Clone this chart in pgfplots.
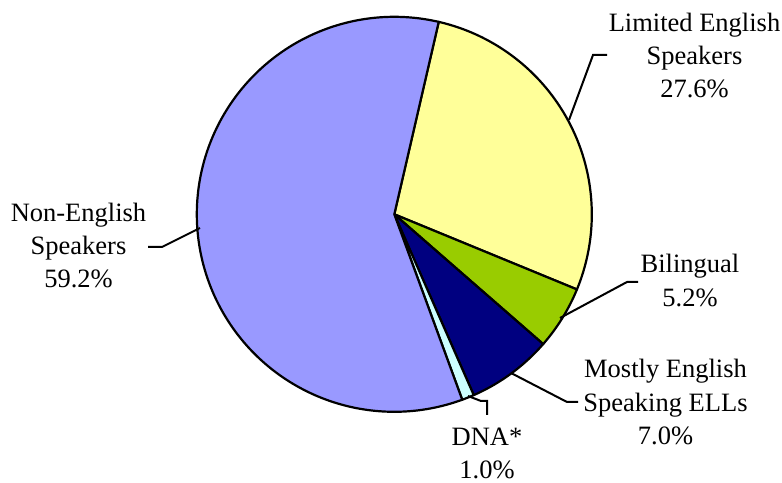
\documentclass[border=0pt]{standalone}
\usepackage{pgfplots}
\pgfplotsset{compat=1.18}
\usepackage{pgfplotstable}
\usepackage{fontspec}
\setmainfont{Liberation Serif}

\definecolor{cLimited}{HTML}{FFFF99}
\definecolor{cBiling}{HTML}{99CC00}
\definecolor{cMostly}{HTML}{000080}
\definecolor{cDNA}{HTML}{CCFFFF}
\definecolor{cNonEng}{HTML}{9999FF}

% Shares of students by English proficiency, in percent (clockwise from the top)
\pgfplotstableread{
group      share
Limited    27.6
Bilingual  5.2
Mostly     7.0
DNA        1.0
NonEnglish 59.2
}\shares

% Pie geometry (axis units = bp)
\def\cx{394.3}
\def\cy{268.7}
\def\R{197.5}
\pgfmathsetmacro\angA{77}
\pgfplotstablegetelem{0}{share}\of\shares \pgfmathsetmacro\angB{\angA-3.6*\pgfplotsretval}
\pgfplotstablegetelem{1}{share}\of\shares \pgfmathsetmacro\angC{\angB-3.6*\pgfplotsretval}
\pgfplotstablegetelem{2}{share}\of\shares \pgfmathsetmacro\angD{\angC-3.6*\pgfplotsretval}
\pgfplotstablegetelem{3}{share}\of\shares \pgfmathsetmacro\angE{\angD-3.6*\pgfplotsretval}
\pgfplotstablegetelem{4}{share}\of\shares \pgfmathsetmacro\angF{\angE-3.6*\pgfplotsretval}

\newcommand{\lbl}{\fontsize{26.5bp}{33bp}\selectfont}

\begin{document}
\begin{tikzpicture}
\useasboundingbox (0,0) rectangle (782bp,483bp);
\begin{axis}[
  at={(0,0)}, anchor=south west,
  scale only axis, width=782bp, height=483bp,
  xmin=0, xmax=782, ymin=0, ymax=483,
  hide axis, clip=false,
]
\pgfplotsset{slice/.style={draw=black, line width=2.2bp, line join=round, samples=90, variable=\t}}
\addplot[slice, fill=cLimited, domain=\angB:\angA] ({\cx+\R*cos(\t)},{\cy+\R*sin(\t)}) -- (axis cs:\cx,\cy) -- cycle;
\addplot[slice, fill=cBiling, domain=\angC:\angB] ({\cx+\R*cos(\t)},{\cy+\R*sin(\t)}) -- (axis cs:\cx,\cy) -- cycle;
\addplot[slice, fill=cMostly, domain=\angD:\angC] ({\cx+\R*cos(\t)},{\cy+\R*sin(\t)}) -- (axis cs:\cx,\cy) -- cycle;
\addplot[slice, fill=cDNA, domain=\angE:\angD, samples=10] ({\cx+\R*cos(\t)},{\cy+\R*sin(\t)}) -- (axis cs:\cx,\cy) -- cycle;
\addplot[slice, fill=cNonEng, domain=\angF:\angE, samples=180] ({\cx+\R*cos(\t)},{\cy+\R*sin(\t)}) -- (axis cs:\cx,\cy) -- cycle;

% leader lines
\pgfplotsset{leader/.style={black, line width=2bp, mark=none, line join=miter}}
\addplot[leader] coordinates {(569,363) (593,428) (607,428)};
\addplot[leader] coordinates {(560,165) (627,201) (638,201)};
\addplot[leader] coordinates {(511,110) (567,81) (578,81)};
\addplot[leader] coordinates {(468,87) (481,82) (487,82) (487,68)};
\addplot[leader] coordinates {(200,255) (162,236) (148,236)};

% labels
\node[anchor=base, font=\lbl] at (axis cs:694.5,451) {Limited English};
\node[anchor=base, font=\lbl] at (axis cs:694.5,418) {Speakers};
\node[anchor=base, font=\lbl] at (axis cs:694.5,385) {27.6\%};

\node[anchor=base, font=\lbl] at (axis cs:690,210) {Bilingual};
\node[anchor=base, font=\lbl] at (axis cs:690,176) {5.2\%};

\node[anchor=base, font=\lbl] at (axis cs:665.5,105) {Mostly English};
\node[anchor=base, font=\lbl] at (axis cs:665.5,71) {Speaking ELLs};
\node[anchor=base, font=\lbl] at (axis cs:665.5,38) {7.0\%};

\node[anchor=base, font=\lbl] at (axis cs:487,37) {DNA*};
\node[anchor=base, font=\lbl] at (axis cs:487,5) {1.0\%};

\node[anchor=base, font=\lbl] at (axis cs:78.5,261) {Non-English};
\node[anchor=base, font=\lbl] at (axis cs:78.5,228) {Speakers};
\node[anchor=base, font=\lbl] at (axis cs:78.5,195) {59.2\%};
\end{axis}
\end{tikzpicture}
\end{document}
